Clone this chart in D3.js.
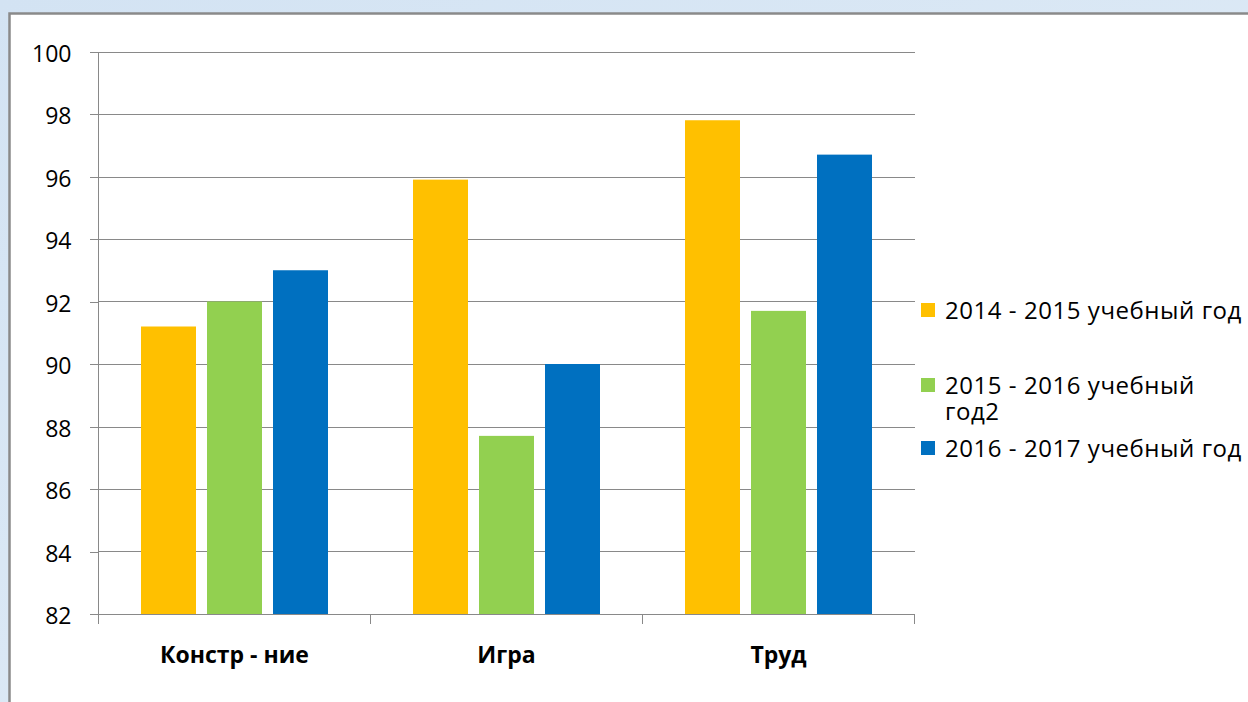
<!DOCTYPE html>
<html lang="ru">
	<head>
		<meta charset="utf-8">
		<title>Bar chart</title>
		<script type="text/javascript" src="https://cdn.jsdelivr.net/npm/d3@7"></script>
		<style type="text/css">
			body { margin: 0; background: #d9e7f4; }
			svg { display: block; }
			text { font-family: "Open Sans", "Noto Sans", sans-serif; fill: #000; }
			.axis path, .axis line { stroke: #898989; shape-rendering: crispEdges; }
			.grid line { stroke: #898989; shape-rendering: crispEdges; }
		</style>
	</head>
	<body>
		<script type="text/javascript">

			var w = 1248;
			var h = 702;

			// data
			var categories = ["Констр - ние", "Игра", "Труд"];
			var seriesNames = ["2014 - 2015 учебный год", "2015 - 2016 учебный год2", "2016 - 2017 учебный год"];
			var s2014 = [91.2, 95.9, 97.8];
			var s2015 = [92.0, 87.7, 91.7];
			var s2016 = [93.0, 90.0, 96.7];
			var yTicks = [82, 84, 86, 88, 90, 92, 94, 96, 98, 100];
			var colors = ["#ffc000", "#92d050", "#0070c0"];

			var series = [s2014, s2015, s2016];

			// plot area
			var plotLeft = 98.5, plotRight = 914.5, plotTop = 51.5, plotBottom = 614;

			var svg = d3.select("body").append("svg")
				.attr("width", w)
				.attr("height", h);

			// background and white panel
			var bg = svg.append("defs").append("linearGradient")
				.attr("id", "bg").attr("x1", 0).attr("y1", 0).attr("x2", 1).attr("y2", 1);
			bg.append("stop").attr("offset", "0%").attr("stop-color", "#d3e3f3");
			bg.append("stop").attr("offset", "100%").attr("stop-color", "#e2edf7");
			svg.append("rect").attr("width", w).attr("height", h).attr("fill", "url(#bg)");
			svg.append("rect")
				.attr("x", 9.5).attr("y", 13.5)
				.attr("width", 1300).attr("height", 760)
				.attr("fill", "#ffffff")
				.attr("stroke", "#8a8a8a")
				.attr("stroke-width", 2.5);

			var yScale = d3.scaleLinear()
				.domain([82, 100])
				.range([plotBottom, plotTop]);

			var xScale = d3.scaleBand()
				.domain(categories)
				.range([plotLeft, plotRight]);

			var xInner = d3.scaleBand()
				.domain(d3.range(series.length))
				.range([0, xScale.bandwidth()])
				.paddingInner(0.1667)
				.paddingOuter(0.644);

			// gridlines
			svg.append("g")
				.attr("class", "grid")
				.selectAll("line")
				.data(yTicks.slice(1))
				.enter()
				.append("line")
				.attr("x1", plotLeft)
				.attr("x2", plotRight)
				.attr("y1", function(d) { return Math.round(yScale(d)) + 0.5; })
				.attr("y2", function(d) { return Math.round(yScale(d)) + 0.5; });

			// bars
			var groups = svg.append("g")
				.selectAll("g")
				.data(categories)
				.enter()
				.append("g")
				.attr("transform", function(d) { return "translate(" + xScale(d) + ",0)"; });

			groups.selectAll("rect")
				.data(function(d, i) {
					return series.map(function(s, j) { return {j: j, v: s[i]}; });
				})
				.enter()
				.append("rect")
				.attr("x", function(d) { return xInner(d.j); })
				.attr("width", xInner.bandwidth())
				.attr("y", function(d) { return yScale(d.v); })
				.attr("height", function(d) { return plotBottom - yScale(d.v); })
				.attr("fill", function(d) { return colors[d.j]; });

			// y axis
			var yAxis = d3.axisLeft(yScale)
				.tickValues(yTicks)
				.tickSize(9)
				.tickPadding(18)
				.tickFormat(d3.format("d"));

			var yg = svg.append("g")
				.attr("class", "axis")
				.attr("transform", "translate(" + plotLeft + ",0)")
				.call(yAxis);
			yg.select(".domain").attr("d", "M0," + plotTop + "V" + plotBottom);
			yg.selectAll("text")
				.style("font-size", "23px")
				.attr("dy", "0.42em");

			// x axis
			var xg = svg.append("g")
				.attr("class", "axis")
				.attr("transform", "translate(0," + (Math.round(plotBottom) + 0.5) + ")");
			xg.append("line")
				.attr("x1", plotLeft - 9).attr("x2", plotRight);
			xg.selectAll(".tk")
				.data(categories.concat([null]))
				.enter()
				.append("line")
				.attr("class", "tk")
				.attr("x1", function(d) { return d === null ? plotRight : xScale(d); })
				.attr("x2", function(d) { return d === null ? plotRight : xScale(d); })
				.attr("y1", 0)
				.attr("y2", 9);
			xg.selectAll(".lbl")
				.data(categories)
				.enter()
				.append("text")
				.attr("class", "lbl")
				.attr("x", function(d) { return xScale(d) + xScale.bandwidth() / 2; })
				.attr("y", 48)
				.attr("text-anchor", "middle")
				.style("font-size", "23px")
				.style("font-weight", "bold")
				.text(function(d) { return d; });

			// legend
			var legendY = [310, 385, 448];
			var legend = svg.append("g")
				.selectAll("g")
				.data(seriesNames)
				.enter()
				.append("g")
				.attr("transform", function(d, i) { return "translate(921," + legendY[i] + ")"; });

			legend.append("rect")
				.attr("x", 0).attr("y", -7)
				.attr("width", 14).attr("height", 14)
				.attr("fill", function(d, i) { return colors[i]; });

			legend.append("text")
				.attr("x", 24)
				.attr("dy", "0.36em")
				.style("font-size", "24px")
				.style("letter-spacing", "0.55px")
				.each(function(d, i) {
					var t = d3.select(this);
					if (i === 1) {
						t.append("tspan").attr("x", 24).text("2015 - 2016 учебный");
						t.append("tspan").attr("x", 24).attr("dy", "1.1em").text("год2");
					} else {
						t.text(d);
					}
				});

		</script>
	</body>
</html>
